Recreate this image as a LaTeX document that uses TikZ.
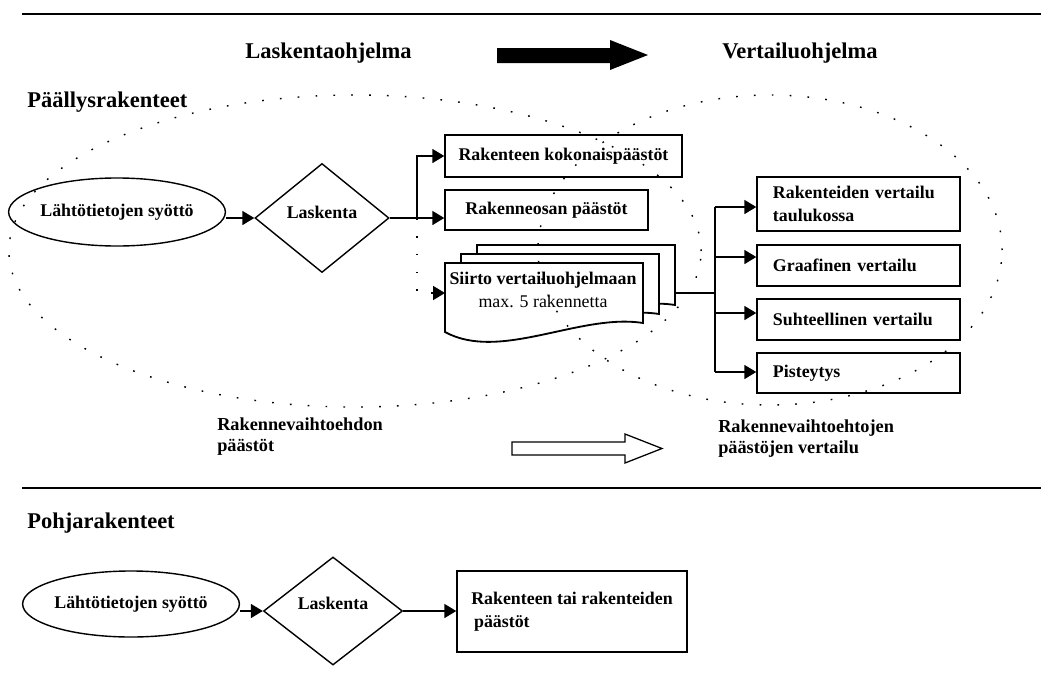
\documentclass[tikz,border=0pt]{standalone}
\usepackage{fontspec}
\setmainfont{Liberation Serif}
\usetikzlibrary{shapes.geometric,arrows.meta,calc}
\begin{document}
\begin{tikzpicture}[x=0.025cm,y=-0.025cm,
  head/.style={font=\fontsize{16}{19}\selectfont\bfseries, anchor=west, inner sep=0},
  lbl/.style={font=\fontsize{13}{15}\selectfont\bfseries, anchor=west, align=left, inner sep=0},
  txt/.style={font=\fontsize{12.7}{16.4}\selectfont\bfseries},
  box/.style={draw, line width=1pt, inner sep=0, txt},
  rbox/.style={box, text width=4.275cm, inner xsep=0.4cm, align=left},
  ell/.style={ellipse, draw, line width=1pt, inner sep=0, txt},
  dia/.style={diamond, draw, line width=1pt, inner sep=0, txt},
  conn/.style={line width=1pt},
  arr/.style={conn, -{Triangle[length=8.5pt,width=10pt]}},
  dots/.style={line width=1pt, dash pattern=on 1.2pt off 11.5pt},
  dotarr/.style={dots, -{Triangle[length=8.5pt,width=10pt]}},
  doc/.style={draw, fill=white, line width=1.3pt},
  sep/.style={line width=1.2pt}
]
\useasboundingbox (0,0) rectangle (1041,686);

% separators
\draw[sep] (22,14) -- (1041,14);
\draw[sep] (22,488) -- (1041,488);

% headings
\node[head] (t1) at (245,53) {Laskentaohjelma};
\node[head] (t2) at (722,53) {Vertailuohjelma};
\node[head] (t3) at (27,102) {Päällysrakenteet};
\node[head] (t4) at (27,523) {Pohjarakenteet};

% big black arrow
\fill (497,48) -- (610,48) -- (610,40) -- (648,55) -- (610,70) -- (610,63) -- (497,63) -- cycle;

% top flow
\node[ell, minimum width=4.75cm, minimum height=1.7cm] (e1) at (117,212) {Lähtötietojen syöttö};
\node[dia, minimum width=3.35cm, minimum height=2.725cm] (d1) at (322,218) {};
\node[txt, inner sep=0] (d1t) at ([yshift=4.3pt]d1.center) {Laskenta};
\node[box, minimum width=5.925cm, minimum height=1.05cm] (b1) at (563.5,156) {Rakenteen kokonaispäästöt};
\node[box, minimum width=5.075cm, minimum height=1cm] (b2) at (546.5,210) {Rakenneosan päästöt};

\coordinate (br) at (417,218);
\coordinate (br2) at (417,293);
\coordinate (siiin) at (445,293);

\draw[arr] (e1.east |- d1.west) -- (d1.west);
\draw[conn] (d1.east) -- (br);
\draw[arr] (br) |- (b1.west);
\draw[arr] (br) -- (b2.west |- br);

% document stack
\begin{scope}[shift={(32,-18)}]
  \draw[doc] (445,263) -- (643,263) -- (643,323) .. controls (580,313) and (500,362) .. (445,332) -- cycle;
\end{scope}
\begin{scope}[shift={(16,-9)}]
  \draw[doc] (445,263) -- (643,263) -- (643,323) .. controls (580,313) and (500,362) .. (445,332) -- cycle;
\end{scope}
\draw[doc] (445,263) -- (643,263) -- (643,323) .. controls (580,313) and (500,362) .. (445,332) -- cycle;
\node[font=\fontsize{12.7}{16.4}\selectfont, align=center, inner sep=0] (sii) at (543,290)
  {{\bfseries Siirto vertailuohjelmaan}\\{max. 5 rakennetta}};

\draw[dotarr] (br) -- (br2) -- (siiin);

% comparison boxes
\node[rbox, minimum height=1.35cm] (r1) at (858.5,204) {Rakenteiden vertailu\\taulukossa};
\node[rbox, minimum height=1.025cm] (r2) at (858.5,265.5) {Graafinen vertailu};
\node[rbox, minimum height=1.025cm] (r3) at (858.5,319.5) {Suhteellinen vertailu};
\node[rbox, minimum height=1cm] (r4) at (858.5,373) {Pisteytys};

\coordinate (sout) at (675,293);
\coordinate (bus) at (715,293);
\coordinate (a1) at (715,207);
\coordinate (a2) at (715,257);
\coordinate (a3) at (715,313);
\coordinate (a4) at (715,372);
\draw[conn] (sout) -- (bus);
\draw[conn] (a1) -- (a4);
\draw[arr] (a1) -- (r1.west |- a1);
\draw[arr] (a2) -- (r2.west |- a2);
\draw[arr] (a3) -- (r3.west |- a3);
\draw[arr] (a4) -- (r4.west |- a4);

% bottom labels of upper section
\node[lbl] (l1) at (217,437) {Rakennevaihtoehdon\\päästöt};
\node[lbl] (l2) at (718,439) {Rakennevaihtoehtojen\\päästöjen vertailu};
\draw[line width=0.9pt] (512,442) -- (625,442) -- (625,434) -- (662,448.5) -- (625,463) -- (625,455) -- (512,455) -- cycle;

% lower flow
\node[ell, minimum width=4.8cm, minimum height=1.65cm] (e2) at (131,604) {Lähtötietojen syöttö};
\node[dia, minimum width=3.475cm, minimum height=2.7cm] (d2) at (333,611) {};
\node[txt, inner sep=0] (d2t) at ([yshift=5.5pt]d2.center) {Laskenta};
\node[box, align=left, minimum width=5.75cm, minimum height=2.025cm] (b5) at (572,611.5)
  {Rakenteen tai rakenteiden\\\hspace*{2pt}päästöt};
\draw[arr] (e2.east |- d2.west) -- (d2.west);
\draw[arr] (d2.east) -- (b5.west |- d2.east);

% dotted grouping ellipses
\draw[dots] (355,251) ellipse [x radius=8.65cm, y radius=3.9cm];
\draw[dots] (770,250) ellipse [x radius=5.8cm, y radius=3.875cm];
\end{tikzpicture}
\end{document}
